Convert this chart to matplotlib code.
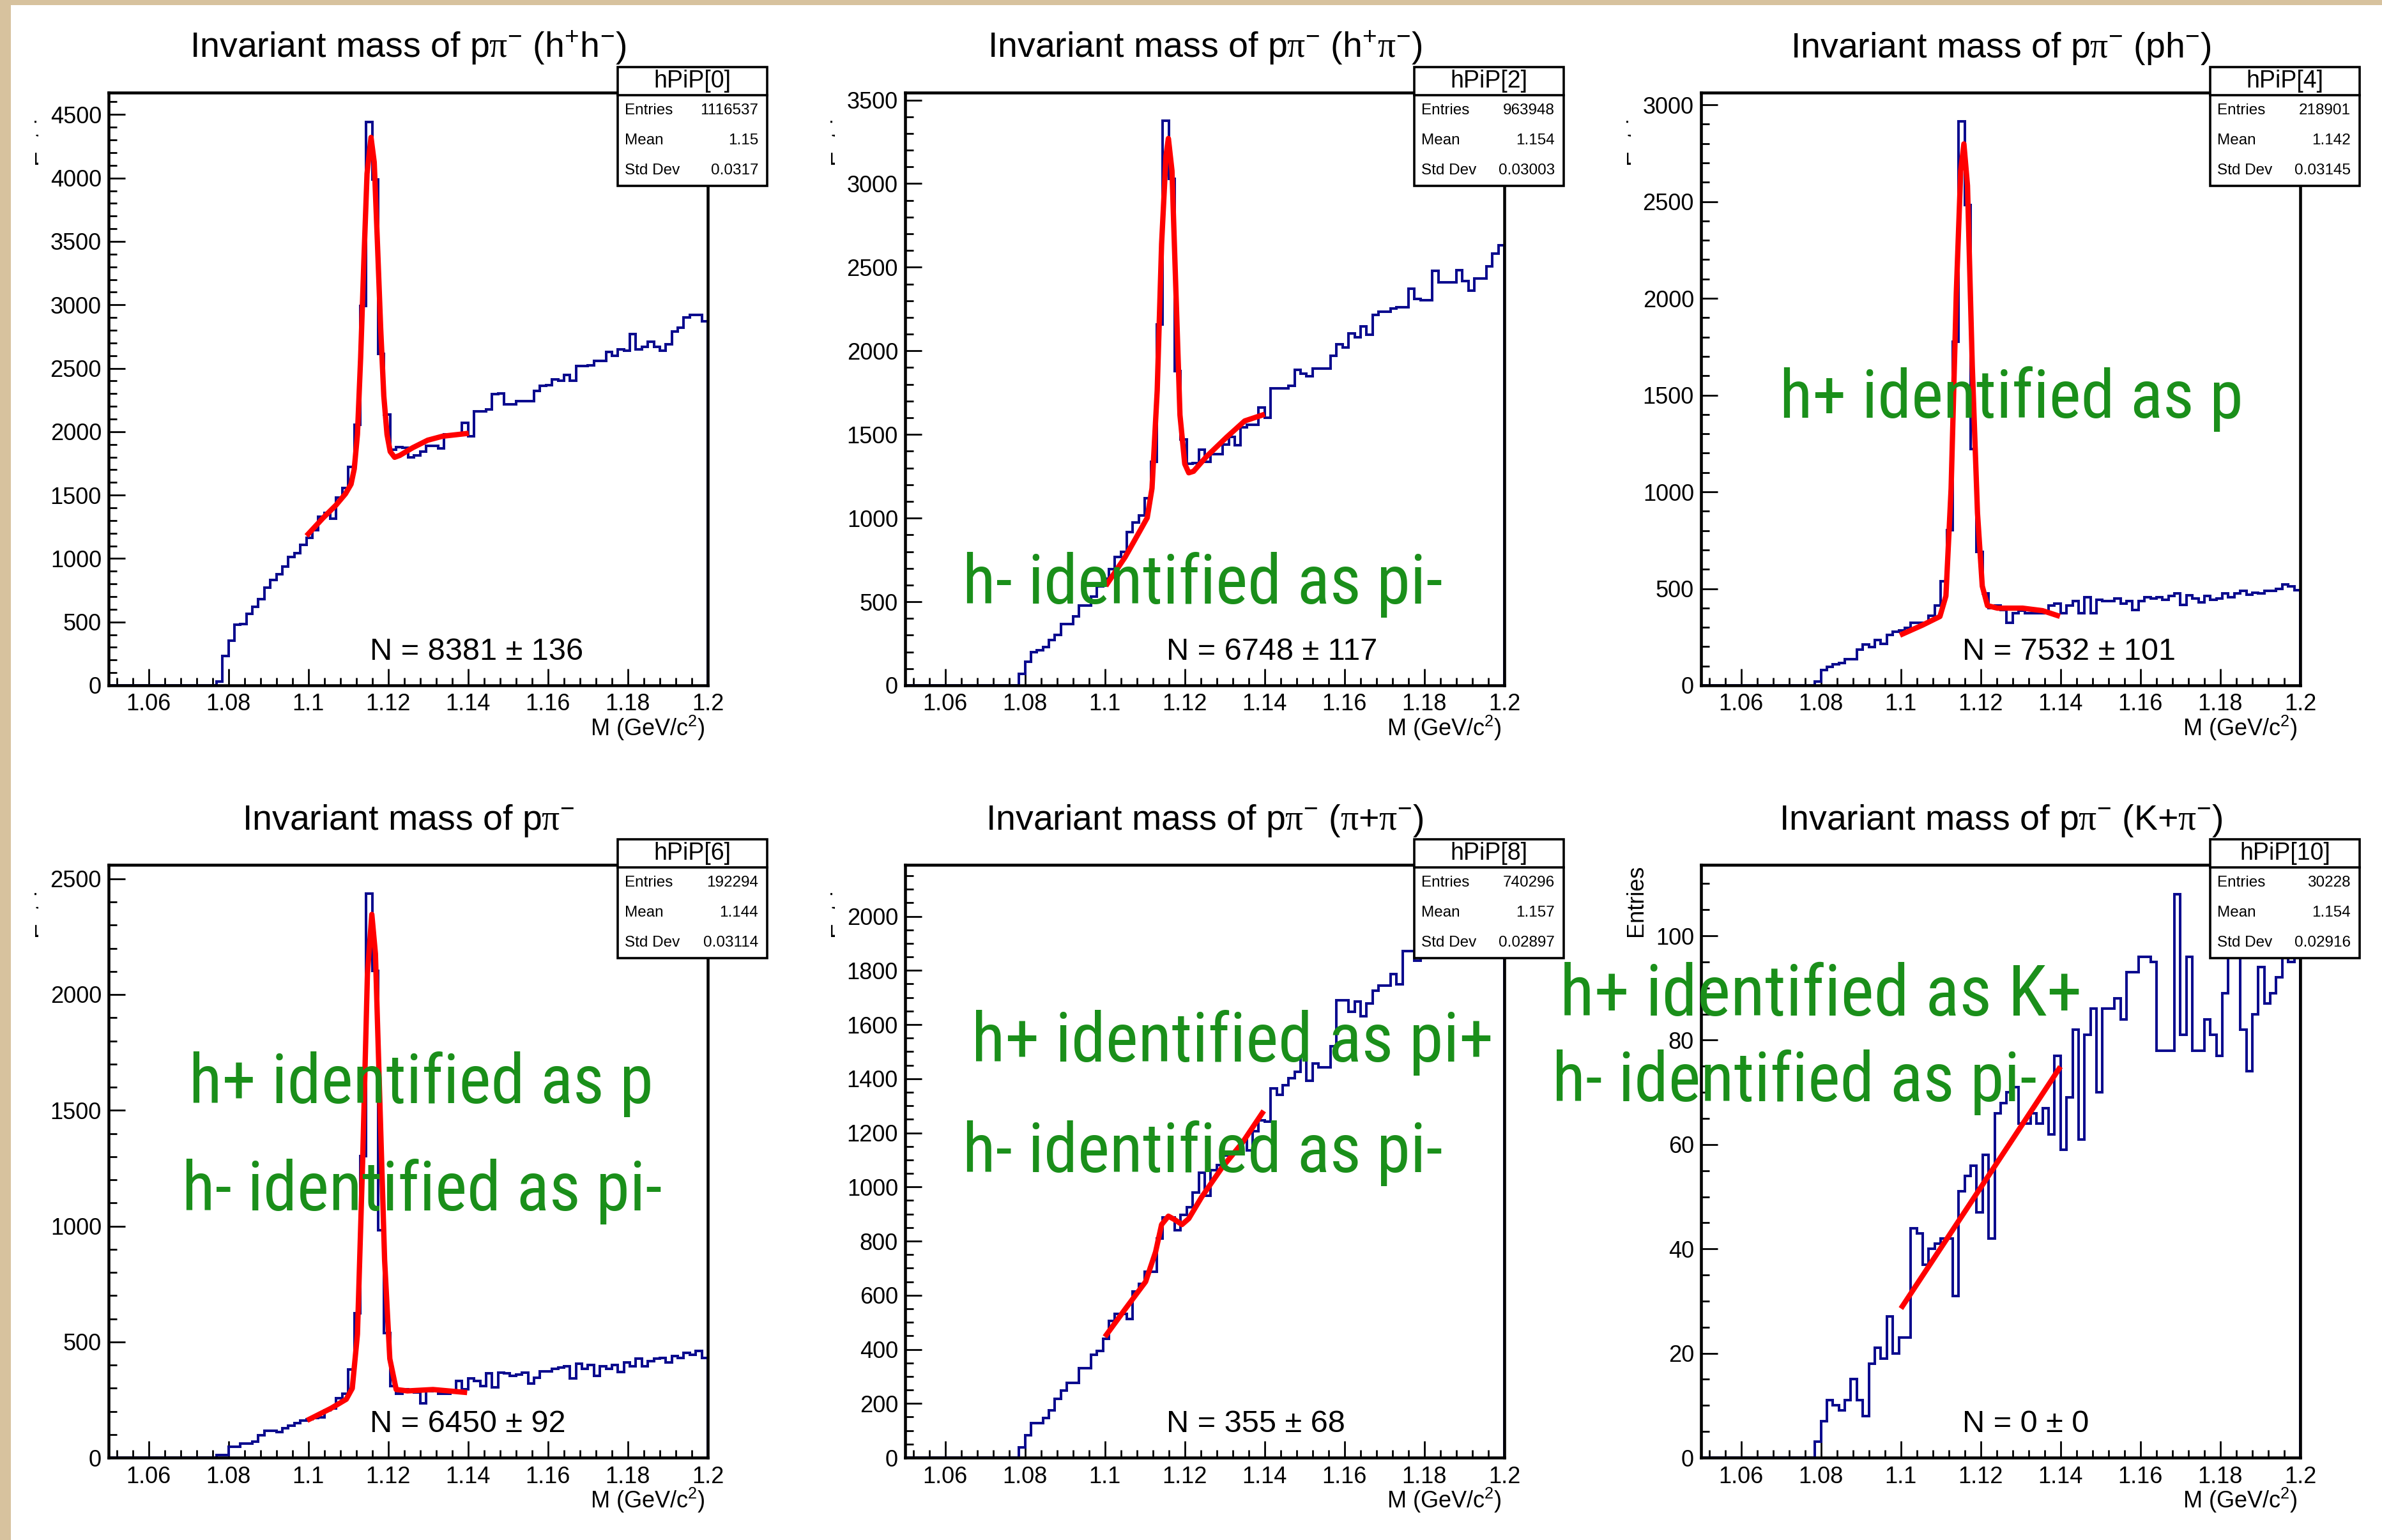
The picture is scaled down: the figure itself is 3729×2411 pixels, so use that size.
import matplotlib
matplotlib.use('Agg')
import matplotlib.pyplot as plt
import numpy as np
from matplotlib.patches import Rectangle
from matplotlib.lines import Line2D
from matplotlib.ticker import MultipleLocator, FuncFormatter
from matplotlib.transforms import Bbox
from matplotlib import font_manager

plt.rcParams['font.family'] = ['Liberation Sans', 'DejaVu Sans']
plt.rcParams['mathtext.fontset'] = 'custom'
plt.rcParams['mathtext.rm'] = 'Liberation Sans'
plt.rcParams['mathtext.it'] = 'Liberation Sans:italic'
plt.rcParams['mathtext.sf'] = 'Liberation Serif'

# Binning: 100 bins of 1.5 MeV from 1.05 to 1.2, first filled bin is #18
edges = np.linspace(1.05, 1.2, 101)
FIRST_BIN = 18

# Bin contents (bins 18..99)
counts_hh = [30, 233, 354, 477, 485, 565, 620, 680, 771, 832, 877, 937, 1012, 1042, 1109, 1163,
             1224, 1330, 1360, 1315, 1480, 1556, 1722, 2054, 2991, 4441, 3988, 2613, 2136, 1858,
             1880, 1873, 1798, 1813, 1843, 1888, 1888, 1870, 1979, 1979, 1979, 2070, 1964, 2160,
             2160, 2175, 2296, 2300, 2215, 2215, 2240, 2240, 2240, 2320, 2360, 2365, 2410, 2400,
             2445, 2400, 2520, 2520, 2525, 2560, 2560, 2630, 2600, 2650, 2640, 2770, 2650, 2670,
             2710, 2670, 2640, 2690, 2790, 2820, 2900, 2920, 2920, 2870]
counts_hpi = [0, 67, 140, 199, 210, 228, 272, 301, 368, 368, 412, 476, 476, 529, 593, 637, 695,
              768, 798, 915, 973, 1017, 1119, 1338, 2156, 3375, 3027, 1879, 1470, 1324, 1330, 1411,
              1338, 1382, 1382, 1441, 1484, 1435, 1543, 1557, 1557, 1660, 1601, 1777, 1777, 1777,
              1791, 1888, 1864, 1850, 1893, 1893, 1893, 1972, 2040, 2019, 2104, 2083, 2148, 2098,
              2215, 2235, 2235, 2253, 2259, 2259, 2370, 2311, 2303, 2303, 2478, 2411, 2411, 2411,
              2484, 2419, 2361, 2434, 2434, 2507, 2580, 2630]
counts_ph = [0, 20, 78, 96, 108, 116, 134, 134, 184, 210, 197, 235, 215, 260, 278, 285, 298, 323,
             323, 323, 361, 412, 538, 803, 1775, 2916, 2482, 1220, 689, 475, 399, 412, 391, 323,
             374, 386, 374, 374, 374, 374, 412, 424, 374, 412, 437, 374, 457, 374, 442, 437, 437,
             449, 424, 437, 391, 437, 457, 449, 457, 442, 462, 475, 417, 467, 449, 429, 462, 442,
             449, 475, 457, 475, 487, 470, 480, 475, 490, 487, 500, 520, 513, 492]
counts_ppi = [11, 11, 47, 47, 60, 60, 68, 96, 117, 117, 111, 128, 139, 149, 160, 165, 171, 175,
              203, 213, 256, 277, 380, 623, 1301, 2436, 2101, 981, 538, 309, 277, 294, 288, 282,
              235, 288, 294, 277, 277, 288, 331, 294, 341, 331, 309, 363, 303, 367, 363, 352, 358,
              367, 320, 346, 373, 373, 384, 388, 395, 341, 405, 384, 399, 352, 395, 384, 399, 370,
              410, 395, 427, 395, 416, 427, 431, 410, 440, 431, 452, 444, 460, 431]
counts_pipi = [0, 37, 82, 128, 128, 147, 174, 216, 247, 275, 275, 330, 330, 381, 394, 440, 504,
               531, 531, 513, 614, 641, 687, 687, 810, 888, 888, 839, 897, 925, 980, 1053, 967,
               1062, 1081, 1117, 1126, 1126, 1172, 1136, 1205, 1245, 1242, 1364, 1341, 1377, 1401,
               1425, 1483, 1392, 1456, 1443, 1443, 1520, 1689, 1689, 1648, 1685, 1630, 1679, 1725,
               1744, 1744, 1786, 1749, 1872, 1872, 1835, 1850, 1880, 1910, 1900, 1940, 1960, 1950,
               1990, 2010, 2000, 2040, 2060, 2050, 2090]
counts_kpi = [0, 3, 7, 11, 10, 9, 11, 15, 11, 8, 18, 21, 19, 27, 20, 23, 23, 44, 43, 37, 40, 41,
              42, 42, 31, 51, 54, 56, 47, 58, 42, 66, 68, 70, 71, 64, 64, 66, 64, 67, 62, 77, 59,
              69, 82, 61, 81, 86, 70, 86, 86, 88, 84, 93, 93, 96, 96, 95, 78, 78, 78, 108, 81, 96,
              78, 78, 84, 81, 77, 89, 96, 98, 82, 74, 85, 94, 87, 89, 92, 96, 95, 97]

# Fit curves (mass, counts)
fit_m_hh = [1.1000, 1.1037, 1.1069, 1.1093, 1.1107, 1.1115, 1.1123, 1.1131, 1.1139, 1.1147, 1.1157,
            1.1165, 1.1173, 1.1181, 1.1189, 1.1197, 1.1205, 1.1216, 1.1229, 1.1261, 1.1299, 1.1336, 1.1395]
fit_n_hh = [1194, 1320, 1420, 1510, 1586, 1707, 1979, 2584, 3338, 4034, 4320, 4124, 3490, 2825,
            2281, 1979, 1843, 1798, 1813, 1873, 1933, 1964, 1985]
fit_m_hpi = [1.1006, 1.1051, 1.1089, 1.1106, 1.1118, 1.1131, 1.1142, 1.1153, 1.1159, 1.1168, 1.1178,
             1.1188, 1.1200, 1.1210, 1.1222, 1.1254, 1.1305, 1.1350, 1.1394]
fit_n_hpi = [608, 768, 929, 1002, 1178, 1762, 2639, 3165, 3270, 3077, 2346, 1616, 1324, 1271, 1280,
             1367, 1484, 1581, 1616]
fit_m_ph = [1.1004, 1.1054, 1.1098, 1.1113, 1.1126, 1.1139, 1.1150, 1.1158, 1.1167, 1.1179, 1.1192,
            1.1204, 1.1217, 1.1242, 1.1305, 1.1355, 1.1392]
fit_n_ph = [265, 311, 356, 462, 1018, 2028, 2659, 2798, 2583, 1649, 891, 513, 412, 399, 399, 386, 361]
fit_m_ppi = [1.1003, 1.1057, 1.1095, 1.1110, 1.1123, 1.1136, 1.1148, 1.1159, 1.1168, 1.1178, 1.1191,
             1.1204, 1.1220, 1.1248, 1.1312, 1.1391]
fit_n_ppi = [166, 213, 252, 299, 533, 1280, 2090, 2346, 2176, 1600, 853, 427, 294, 288, 294, 282]
fit_m_pipi = [1.1004, 1.1051, 1.1102, 1.1127, 1.1142, 1.1159, 1.1175, 1.1193, 1.1210, 1.1242,
              1.1293, 1.1344, 1.1394]
fit_n_pipi = [454, 549, 650, 760, 861, 892, 879, 861, 883, 962, 1071, 1163, 1273]
fit_m_kpi = [1.1004, 1.1396]
fit_n_kpi = [29, 74.5]

titles = [r'Invariant mass of p$\mathsf{\pi}^{-}$ (h$^{+}$h$^{-}$)',
          r'Invariant mass of p$\mathsf{\pi}^{-}$ (h$^{+}\mathsf{\pi}^{-}$)',
          r'Invariant mass of p$\mathsf{\pi}^{-}$ (ph$^{-}$)',
          r'Invariant mass of p$\mathsf{\pi}^{-}$',
          r'Invariant mass of p$\mathsf{\pi}^{-}$ ($\mathsf{\pi}$+$\mathsf{\pi}^{-}$)',
          r'Invariant mass of p$\mathsf{\pi}^{-}$ (K+$\mathsf{\pi}^{-}$)']
hist_names = ['hPiP[0]', 'hPiP[2]', 'hPiP[4]', 'hPiP[6]', 'hPiP[8]', 'hPiP[10]']
entries = ['1116537', '963948', '218901', '192294', '740296', '30228']
means = ['1.15', '1.154', '1.142', '1.144', '1.157', '1.154']
std_devs = ['0.0317', '0.03003', '0.03145', '0.03114', '0.02897', '0.02916']
yields = ['N = 8381 ± 136', 'N = 6748 ± 117', 'N = 7532 ± 101',
          'N = 6450 ± 92', 'N = 355 ± 68', 'N = 0 ± 0']

W, H = 3729, 2411
fig = plt.figure(figsize=(W / 100, H / 100), dpi=100)
fig.patch.set_facecolor('white')

# beige paper edges
BEIGE = '#d7c29e'
fig.add_artist(Rectangle((0, 0), 17 / W, 1, transform=fig.transFigure, fc=BEIGE, ec='none', zorder=0))
fig.add_artist(Rectangle((0, 1 - 8 / H), 1, 8 / H, transform=fig.transFigure, fc=BEIGE, ec='none', zorder=0))

col_left = [170, 1417, 2663]
row_top = [145, 1354]
AX_W, AX_H = 938, 928
HIST_BLUE = '#0b0b8e'
GREEN = '#1a8f1a'


def fx(px):
    return px / W


def fy(py):
    return 1 - py / H


def draw_panel(i, col, row, counts, fit_m, fit_n, ymax, major, minor):
    left, top = col_left[col], row_top[row]
    right = left + AX_W
    ax = fig.add_axes([fx(left), fy(top + AX_H), AX_W / W, AX_H / H])
    values = np.concatenate([np.zeros(FIRST_BIN), counts])
    ax.stairs(values, edges, color=HIST_BLUE, lw=2.9, zorder=2)
    ax.plot(fit_m, fit_n, color='#ff0000', lw=6, solid_joinstyle='round', zorder=3)
    ax.set_xlim(1.05, 1.2)
    ax.set_ylim(0, ymax)
    ax.xaxis.set_major_locator(MultipleLocator(0.02))
    ax.xaxis.set_minor_locator(MultipleLocator(0.004))
    ax.yaxis.set_major_locator(MultipleLocator(major))
    ax.yaxis.set_minor_locator(MultipleLocator(minor))
    fmt = FuncFormatter(lambda v, p: f'{v:g}')
    ax.xaxis.set_major_formatter(fmt)
    ax.yaxis.set_major_formatter(fmt)
    ax.tick_params(which='both', direction='in', top=False, right=False, width=2.0, labelsize=26)
    ax.tick_params(which='major', length=19)
    ax.tick_params(which='minor', length=9)
    ax.tick_params(axis='x', pad=9)
    ax.tick_params(axis='y', pad=8)
    for s in ax.spines.values():
        s.set_linewidth(3.3)

    # title, axis title, yield
    fig.text(fx((left + right) / 2), fy(top - 55), titles[i], fontsize=40, ha='center', va='baseline')
    ax.text(1 - 4 / AX_W, -67 / AX_H, r'M (GeV/c$^{2}$)', transform=ax.transAxes,
            fontsize=26, ha='right', va='center')
    ax.text(409 / AX_W, 52 / AX_H, yields[i], transform=ax.transAxes, fontsize=35,
            ha='left', va='center', zorder=4)

    # y axis title (only fully visible on the last pad)
    yl = fig.text(fx(left - 101), fy(top), 'Entries', rotation=90, fontsize=26,
                  ha='center', va='top', zorder=1)
    if i != 5:
        yl.set_clip_on(True)
        yl.set_clip_box(Bbox.from_extents(left - 120, 0, left - 110, H))

    # stats box
    bx0, bx1 = right - 141, right + 93
    by0, by1 = top - 40, top + 146
    div = top + 4
    fig.add_artist(Rectangle((fx(bx0), fy(by1)), (bx1 - bx0) / W, (by1 - by0) / H,
                             transform=fig.transFigure, fc='white', ec='black', lw=2.6, zorder=10))
    fig.add_artist(Line2D([fx(bx0), fx(bx1)], [fy(div), fy(div)], transform=fig.transFigure,
                          color='black', lw=2.6, zorder=11))
    fig.text(fx((bx0 + bx1) / 2), fy((by0 + div) / 2), hist_names[i], fontsize=27,
             ha='center', va='center', zorder=12)
    row_h = (by1 - div) / 3
    rows = [('Entries', entries[i]), ('Mean', means[i]), ('Std Dev', std_devs[i])]
    for k, (lab, val) in enumerate(rows):
        yc = div + row_h * (k + 0.5)
        fig.text(fx(bx0 + 11), fy(yc), lab, fontsize=17.5, ha='left', va='center', zorder=12)
        fig.text(fx(bx1 - 14), fy(yc), val, fontsize=17.5, ha='right', va='center', zorder=12)
    return ax


draw_panel(0, 0, 0, counts_hh, fit_m_hh, fit_n_hh, 4673, 500, 100)
draw_panel(1, 1, 0, counts_hpi, fit_m_hpi, fit_n_hpi, 3544, 500, 100)
draw_panel(2, 2, 0, counts_ph, fit_m_ph, fit_n_ph, 3063, 500, 100)
draw_panel(3, 0, 1, counts_ppi, fit_m_ppi, fit_n_ppi, 2560, 500, 100)
draw_panel(4, 1, 1, counts_pipi, fit_m_pipi, fit_n_pipi, 2190, 200, 50)
draw_panel(5, 2, 1, counts_kpi, fit_m_kpi, fit_n_kpi, 113.6, 20, 5)

# pick a narrow face for the handwritten notes if one is installed
installed = {f.name for f in font_manager.fontManager.ttflist}
note_family = [f for f in ['Roboto Condensed', 'Liberation Sans Narrow', 'Roboto', 'Liberation Sans']
               if f in installed] + ['DejaVu Sans']

# handwritten notes: text, left x, baseline y, width (pixels)
notes = [('h- identified as pi-', 1507, 945, 751),
         ('h+ identified as p', 2786, 654, 725),
         ('h+ identified as p', 296, 1727, 726),
         ('h- identified as pi-', 285, 1895, 751),
         ('h+ identified as pi+', 1521, 1662, 817),
         ('h- identified as pi-', 1507, 1835, 751),
         ('h+ identified as K+', 2442, 1590, 818),
         ('h- identified as pi-', 2430, 1724, 757)]
renderer = fig.canvas.get_renderer()
for text, x0, yb, width in notes:
    t = fig.text(fx(x0), fy(yb), text, color=GREEN, fontsize=80,
                 family=note_family, weight='normal',
                 ha='left', va='baseline', zorder=20)
    bb = t.get_window_extent(renderer)
    t.set_fontsize(80 * width / bb.width)

fig.savefig('out.png', dpi=100)
